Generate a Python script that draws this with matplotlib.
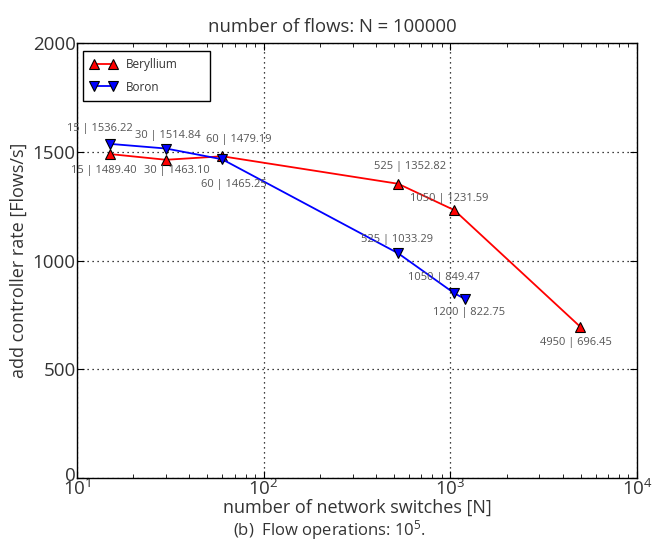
import matplotlib
matplotlib.use("Agg")
import matplotlib.pyplot as plt
import matplotlib.transforms as mtransforms
from matplotlib.ticker import LogLocator, NullFormatter

plt.rcParams['font.family'] = ['Open Sans', 'DejaVu Sans']
plt.rcParams['mathtext.fontset'] = 'custom'
plt.rcParams['mathtext.rm'] = 'Open Sans'
plt.rcParams['mathtext.default'] = 'regular'

be_x = [15, 30, 60, 525, 1050, 4950]
be_y = [1489.40, 1463.10, 1479.19, 1352.82, 1231.59, 696.45]
bo_x = [15, 30, 60, 525, 1050, 1200]
bo_y = [1536.22, 1514.84, 1465.25, 1033.29, 849.47, 822.75]

be_off = [(-6, -16), (11, -11), (16, 17), (12, 17), (-5, 12), (-4, -16)]
bo_off = [(-10, 15), (2, 13), (12, -25), (-1, 14), (-10, 16), (4, -13)]

W, H = 658, 554
fig = plt.figure(figsize=(W/100, H/100), dpi=100)
L, R, T, B = 77, 637, 43, 478
ax = fig.add_axes([L/W, 1-B/H, (R-L)/W, (B-T)/H])

ax.plot(be_x, be_y, '-', color='red', lw=1.3, marker='^', ms=7,
        mfc='red', mec='black', mew=0.8, label='Beryllium', zorder=3)
ax.plot(bo_x, bo_y, '-', color='blue', lw=1.3, marker='v', ms=7,
        mfc='blue', mec='black', mew=0.8, label='Boron', zorder=3)

tc = '#555555'
for x, y, (dx, dy) in zip(be_x, be_y, be_off):
    ax.annotate(f"{x} | {y:.2f}", (x, y), xytext=(dx, dy), textcoords='offset pixels',
                ha='center', va='center', fontsize=8, color=tc)
for x, y, (dx, dy) in zip(bo_x, bo_y, bo_off):
    ax.annotate(f"{x} | {y:.2f}", (x, y), xytext=(dx, dy), textcoords='offset pixels',
                ha='center', va='center', fontsize=8, color=tc)

ax.set_xscale('log')
ax.set_xlim(10, 10000)
ax.set_ylim(0, 2000)
ax.set_yticks([0, 500, 1000, 1500, 2000])
ax.xaxis.set_minor_locator(LogLocator(base=10, subs=range(2, 10)))
ax.xaxis.set_minor_formatter(NullFormatter())
ax.grid(True, which='major', color='black', linestyle=(0, (1, 3)), lw=0.9)

ax.tick_params(which='both', direction='in', top=True, right=True, colors='black',
               labelcolor='#333333', labelsize=13.5)
ax.tick_params(which='major', length=5, width=0.8)
ax.tick_params(which='minor', length=3, width=0.6)
ax.tick_params(axis='x', pad=1)
ax.tick_params(axis='y', pad=1)
for s in ax.spines.values():
    s.set_linewidth(1.0)
    s.set_color('black')

fig.text(332/W, 1-27/H, 'number of flows: N = 100000', ha='center', va='center',
         fontsize=13.3, color='#333333')
ax.set_xlabel('number of network switches [N]', fontsize=13, color='#333333')
ax.xaxis.label.set_va('center')
ax.xaxis.set_label_coords(0.5, -(508-B)/(B-T))
ax.set_ylabel('add controller rate [Flows/s]', fontsize=13, color='#333333')
ax.yaxis.label.set_va('center')
ax.yaxis.set_label_coords(-(L-19)/(R-L), 0.5)

leg = ax.legend(loc='upper left', numpoints=2, fontsize=8.5, fancybox=False,
                edgecolor='black', framealpha=1, handlelength=2.2,
                bbox_to_anchor=((83-L)/(R-L), 0.5, (210-83)/(R-L), (B-51)/(B-T)-0.5),
                mode='expand', borderaxespad=0, labelspacing=0.8, borderpad=0.6)
leg.get_frame().set_linewidth(1.0)
for t in leg.get_texts():
    t.set_color('#333333')

fig.text(0.5, 1-530/H, r'(b)  Flow operations: $10^5$.', ha='center', va='center',
         fontsize=12, color='#333333')

# nudge the "0" y tick label slightly up, as in the reference
fig.canvas.draw()
shift = mtransforms.ScaledTranslation(0, 4/100, fig.dpi_scale_trans)
for lbl in ax.get_yticklabels():
    if lbl.get_text() == '0':
        lbl.set_transform(lbl.get_transform() + shift)

fig.savefig('out.png', dpi=100)
